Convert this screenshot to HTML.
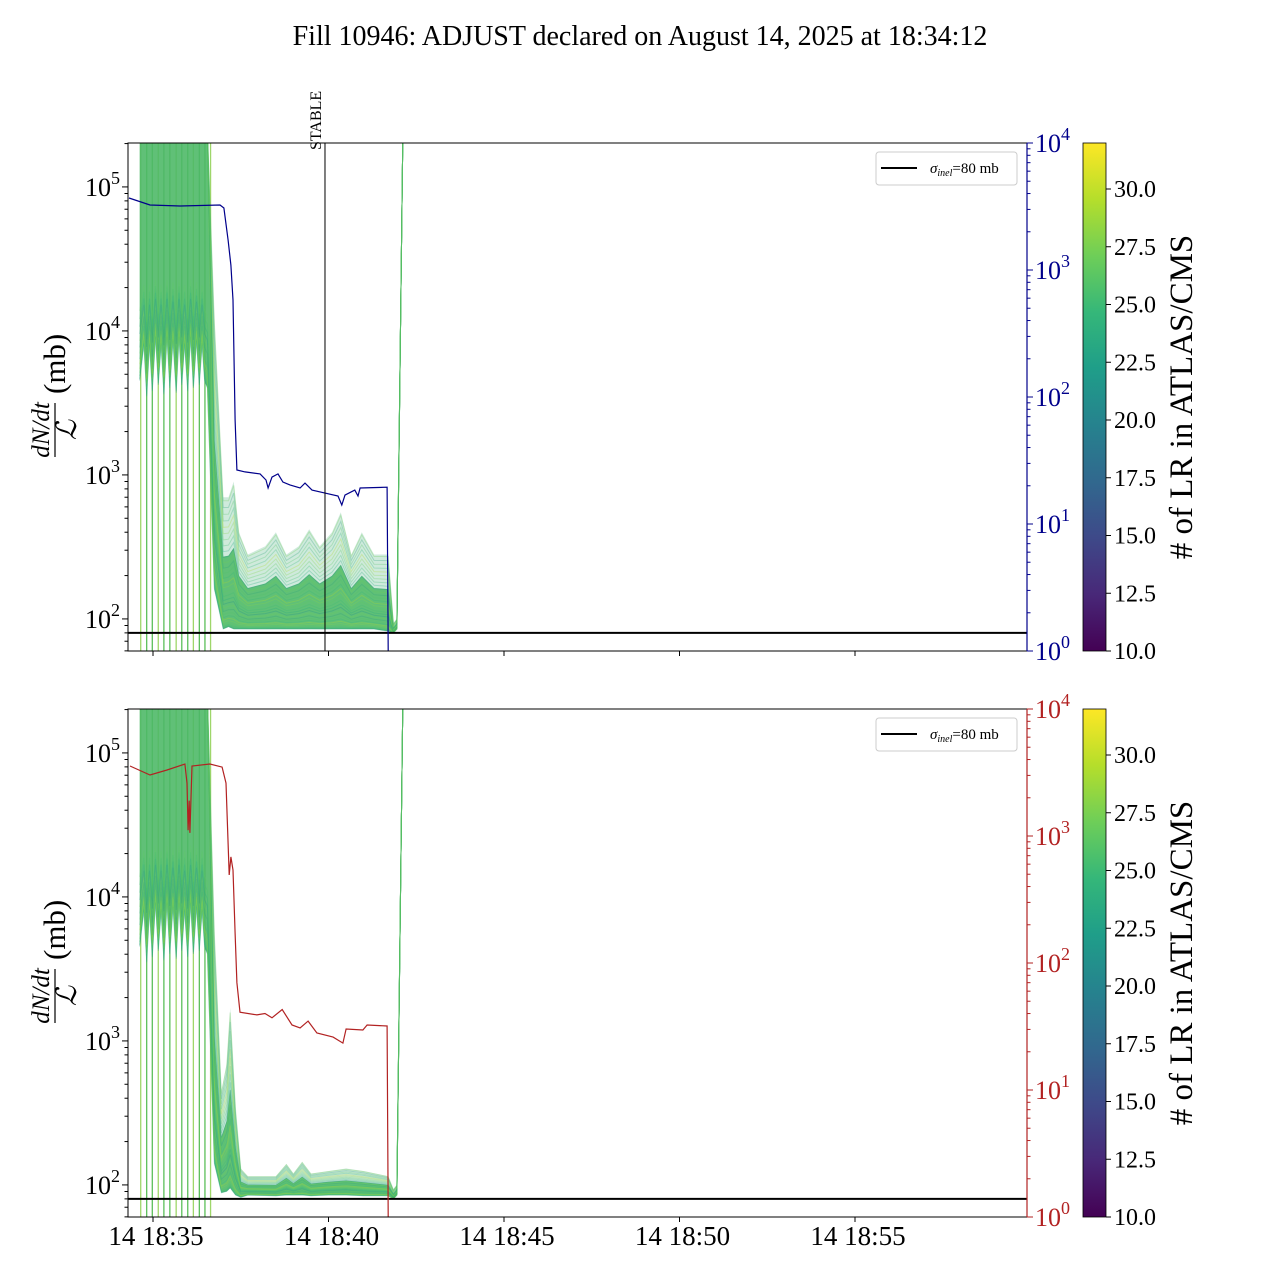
<!DOCTYPE html>
<html><head><meta charset="utf-8"><style>
html,body{margin:0;padding:0;background:#fff;}
svg{display:block;font-family:"Liberation Serif",serif;}
</style></head><body>
<svg id="chart" width="1280" height="1280" viewBox="0 0 1280 1280" xmlns="http://www.w3.org/2000/svg"></svg>
<script>
// ---- data ----
const xTickTimes = [1, 6, 11, 16, 21];
const xTickLabels = ["14 18:35", "14 18:40", "14 18:45", "14 18:50", "14 18:55"];
const stableTime = 5.9;
const sigmaInel = 80;
const spikeTimes = [0.65,0.82,0.98,1.15,1.31,1.48,1.66,1.82,1.99,2.15,2.32,2.48,2.64];
const topBandTimes = [0.62,0.74,0.82,0.9,0.98,1.07,1.15,1.23,1.31,1.4,1.48,1.57,1.66,1.74,1.82,1.9,1.99,2.07,2.15,2.24,2.32,2.4,2.47,2.55,2.75,3.0,3.15,3.3,3.45,3.7,4.2,4.5,4.8,5.15,5.45,5.75,6.1,6.35,6.65,6.95,7.3,7.7,7.85,7.95,8.12];
const topBandUpper = [250000,250000,250000,250000,250000,250000,250000,250000,250000,250000,250000,250000,250000,250000,250000,250000,250000,250000,250000,250000,250000,250000,250000,250000,12600,700,700,900,400,280,320,400,280,320,420,320,400,550,280,400,280,280,93,100,250000];
const topBandLower = [4500,8000,3500,8000,3800,9000,4200,8000,3600,9000,4000,8500,3700,9000,4200,8000,3800,9000,4000,8500,4200,8000,4500,4000,160,85,88,85,85,85,85,85,85,85,85,85,85,85,85,85,85,82,80,85,250000];
const botBandTimes = [0.62,0.74,0.82,0.9,0.98,1.07,1.15,1.23,1.31,1.4,1.48,1.57,1.66,1.74,1.82,1.9,1.99,2.07,2.15,2.24,2.32,2.4,2.47,2.55,2.75,2.95,3.1,3.2,3.35,3.5,3.7,4.5,4.8,5.0,5.25,5.5,6.0,6.5,7.0,7.7,7.85,7.95,8.12];
const botBandUpper = [250000,250000,250000,250000,250000,250000,250000,250000,250000,250000,250000,250000,250000,250000,250000,250000,250000,250000,250000,250000,250000,250000,250000,250000,6000,450,700,1700,350,130,115,115,140,120,145,120,125,130,125,115,93,100,250000];
const botBandLower = [4500,8000,3500,8000,3800,9000,4200,8000,3600,9000,4000,8500,3700,9000,4200,8000,3800,9000,4000,8500,4200,8000,4500,4000,140,88,90,95,85,82,85,84,85,85,85,84,85,85,84,84,80,85,250000];
const blueTimes = [0.316,0.915,1.77,2.91,3.02,3.14,3.22,3.28,3.34,3.39,3.62,4.05,4.22,4.28,4.39,4.56,4.70,4.90,5.19,5.33,5.53,5.90,6.27,6.38,6.47,6.75,6.84,6.90,7.67,7.70];
const blueValues = [3690,3250,3190,3250,3080,1720,1090,580,66,26.6,25.7,24.8,22.2,19.2,23.4,24.8,21.4,20.3,19.2,21.0,18.5,17.5,16.6,14.1,16.9,18.5,16.6,19.2,19.5,1];
const redTimes = [0.345,0.915,1.40,1.91,1.97,2.00,2.03,2.05,2.11,2.62,2.97,3.08,3.17,3.22,3.28,3.34,3.39,3.48,3.96,4.19,4.39,4.68,4.96,5.19,5.42,5.67,6.13,6.41,6.50,6.98,7.10,7.67,7.70];
const redValues = [3560,3020,3310,3690,2610,1110,1900,1060,3560,3690,3490,2610,493,684,540,172,70,41,39,40,37,43,32.5,30.8,34.9,28.1,26.1,23.4,30.2,29.7,32.5,31.9,1];
const cbTicks = [10.0,12.5,15.0,17.5,20.0,22.5,25.0,27.5,30.0];
const rightTickExps = [0,1,2,3,4];
const leftTickExps = [2,3,4,5];

// ---- helpers ----
const NS = "http://www.w3.org/2000/svg";
const svg = document.getElementById("chart");
function mk(tag, attrs, parent) {
  const e = document.createElementNS(NS, tag);
  for (const k in attrs) e.setAttribute(k, attrs[k]);
  (parent || svg).appendChild(e);
  return e;
}
const X0 = 128, X1 = 1027;
function xScale(t) { return 153 + (t - 1) * 35.1; }
const panels = [
  {y0:143, y1:651, color:"#00008b", bt:topBandTimes, bu:topBandUpper, bl:topBandLower, lt:blueTimes, lv:blueValues, name:"top"},
  {y0:709, y1:1217, color:"#b22222", bt:botBandTimes, bu:botBandUpper, bl:botBandLower, lt:redTimes, lv:redValues, name:"bottom"}
];
const palette = ['#21918c','#27ad81','#3fbc73','#5ec962','#84d44b','#addc30','#35b779','#52c569','#2ea37a','#6ccd5a'];

let tt = mk("text", {x:640, y:45, "text-anchor":"middle", "font-size":28});
tt.textContent = "Fill 10946: ADJUST declared on August 14, 2025 at 18:34:12";



panels.forEach((P, pi) => {
  const yL = v => P.y0 + (5.305 - Math.log10(v)) * 144;
  const yR = v => P.y1 - Math.log10(v) * 127;
  const g = mk("g", {});
  
  
  const cid = "clip" + pi;
  const cp = mk("clipPath", {id:cid}, g);
  mk("rect", {x:X0, y:P.y0, width:X1-X0, height:P.y1-P.y0}, cp);
  const plot = mk("g", {"clip-path":"url(#"+cid+")"}, g);

  const bandAt = (i, f) => {
    const lv = Math.log10(P.bl[i]), uv = Math.log10(P.bu[i]);
    if (P.bu[i] >= 100000 && f > 0.3) return P.bu[i];
    return Math.pow(10, lv + (uv - lv) * f);
  };
  function bandPoly(f0, f1) {
    let d = "";
    for (let i = 0; i < P.bt.length; i++) d += (i ? "L" : "M") + xScale(P.bt[i]).toFixed(1) + "," + yL(bandAt(i, f1)).toFixed(1);
    for (let i = P.bt.length - 1; i >= 0; i--) d += "L" + xScale(P.bt[i]).toFixed(1) + "," + yL(bandAt(i, f0)).toFixed(1);
    return d + "Z";
  }
  spikeTimes.forEach((t, i) => {
    const l = mk("line", {x1:xScale(t), x2:xScale(t), y1:P.y0, y2:P.y1, stroke:i%3==0?"#9fd66a":"#5cbf5a", "stroke-width":1.3}, plot);
    
    
  });
  const outer = mk("path", {d:bandPoly(0, 1), fill:"#5fb98a", "fill-opacity":0.3, stroke:"none"}, plot);
  
  
  const core = mk("path", {d:bandPoly(0, 0.55), fill:"#4cb865", "fill-opacity":0.85, stroke:"none"}, plot);
  
  
  const N = 30;
  for (let k = 0; k < N; k++) {
    const f = Math.pow((k + 0.5) / N, 1.6);
    let d = "";
    for (let i = 0; i < P.bt.length; i++) d += (i ? "L" : "M") + xScale(P.bt[i]).toFixed(1) + "," + yL(bandAt(i, f)).toFixed(1);
    const p = mk("path", {d:d, fill:"none", stroke:palette[k % palette.length], "stroke-width":1, "stroke-opacity":0.3}, plot);
    
    
  }
  const sl = mk("line", {x1:X0, x2:X1, y1:yL(sigmaInel), y2:yL(sigmaInel), stroke:"#000", "stroke-width":2}, plot);
  
  
  let d = "";
  P.lt.forEach((t, i) => { d += (i ? "L" : "M") + xScale(t).toFixed(1) + "," + yR(P.lv[i]).toFixed(1); });
  const lp = mk("path", {d:d, fill:"none", stroke:P.color, "stroke-width":1.2}, plot);
  
  

  if (pi === 0) {
    const xs = xScale(stableTime);
    const st = mk("line", {x1:xs, x2:xs, y1:P.y0, y2:P.y1, stroke:"#000", "stroke-width":1}, g);
    
    
    const stt = mk("text", {x:0, y:0, transform:"translate("+(xs-4)+",150) rotate(-90)", "font-size":16});
    stt.textContent = "STABLE";
    
    
  }

  const fr = mk("rect", {x:X0, y:P.y0, width:X1-X0, height:P.y1-P.y0, fill:"none", stroke:"#000", "stroke-width":1}, g);
  
  
  mk("line", {x1:X1, x2:X1, y1:P.y0, y2:P.y1, stroke:P.color, "stroke-width":1.2}, g);

  xTickTimes.forEach((t, i) => {
    mk("line", {x1:xScale(t), x2:xScale(t), y1:P.y1, y2:P.y1+5, stroke:"#000"}, g);
    if (pi === 1) {
      const tx = mk("text", {x:xScale(t)+3, y:P.y1+28, "text-anchor":"middle", "font-size":27}, g);
      tx.textContent = xTickLabels[i];
      
      
    }
  });
  for (let e = 1; e <= 5; e++) {
    for (let m = 1; m <= 9; m++) {
      const y = yL(m * Math.pow(10, e));
      if (y < P.y0 - 0.5 || y > P.y1 + 0.5) continue;
      mk("line", {x1:X0, x2:X0-(m===1?6:3.5), y1:y, y2:y, stroke:"#000"}, g);
    }
  }
  leftTickExps.forEach(e => {
    const tx = mk("text", {x:X0-8, y:yL(Math.pow(10,e))+9, "text-anchor":"end", "font-size":26}, g);
    tx.innerHTML = '10<tspan dy="-12" font-size="18">' + e + '</tspan>';
    
    
  });
  for (let e = 0; e <= 3; e++) {
    for (let m = 1; m <= 9; m++) {
      const y = yR(m * Math.pow(10, e));
      mk("line", {x1:X1, x2:X1+(m===1?6:3.5), y1:y, y2:y, stroke:P.color}, g);
    }
  }
  mk("line", {x1:X1, x2:X1+6, y1:yR(1e4), y2:yR(1e4), stroke:P.color}, g);
  rightTickExps.forEach(e => {
    const tx = mk("text", {x:X1+8, y:yR(Math.pow(10,e))+9, "font-size":26, fill:P.color}, g);
    tx.innerHTML = '10<tspan dy="-12" font-size="18">' + e + '</tspan>';
    
    
  });

  const cy = (P.y0 + P.y1) / 2;
  const yl = mk("g", {transform:"translate(55," + cy + ") rotate(-90)"}, g);
  
  
  const num = mk("text", {x:-33, y:-6, "text-anchor":"middle", "font-size":25, "font-style":"italic"}, yl);
  num.textContent = "dN/dt";
  mk("line", {x1:-60, x2:-6, y1:0, y2:0, stroke:"#000", "stroke-width":1.2}, yl);
  const den = mk("text", {x:-33, y:21, "text-anchor":"middle", "font-size":28, "font-style":"italic"}, yl);
  den.textContent = "ℒ";
  const mb = mk("text", {x:3, y:10, "font-size":31}, yl);
  mb.textContent = "(mb)";

  const lg = mk("g", {}, g);
  
  
  mk("rect", {x:876, y:P.y0+9, width:141, height:33, rx:3, fill:"#fff", "fill-opacity":0.85, stroke:"#ccc"}, lg);
  mk("line", {x1:881, x2:917, y1:P.y0+25, y2:P.y0+25, stroke:"#000", "stroke-width":2}, lg);
  const lt = mk("text", {x:930, y:P.y0+30, "font-size":15}, lg);
  lt.innerHTML = '<tspan font-style="italic">σ</tspan><tspan font-style="italic" font-size="10" dy="3">inel</tspan><tspan dy="-3">=80 mb</tspan>';

  const gid = "vir" + pi;
  const lgd = mk("linearGradient", {id:gid, x1:0, y1:1, x2:0, y2:0}, g);
  ["#440154","#482878","#3e4989","#31688e","#26828e","#1f9e89","#35b779","#6ece58","#b5de2b","#fde725"].forEach((c, i) => {
    mk("stop", {offset:(i/9).toFixed(3), "stop-color":c}, lgd);
  });
  const cb = mk("rect", {x:1083, y:P.y0, width:23, height:P.y1-P.y0, fill:"url(#"+gid+")", stroke:"#000", "stroke-width":0.8}, g);
  
  
  cbTicks.forEach(v => {
    const y = P.y1 - (v - 10) * 23.1;
    mk("line", {x1:1106, x2:1111, y1:y, y2:y, stroke:"#000"}, g);
    const tx = mk("text", {x:1114, y:y+8, "font-size":24}, g);
    tx.textContent = v.toFixed(1);
    
    
  });
  const cl = mk("text", {x:0, y:0, transform:"translate(1192," + (cy) + ") rotate(-90)", "text-anchor":"middle", "font-size":33}, g);
  cl.textContent = "# of LR in ATLAS/CMS";
  
  
});
</script>
</body></html>
